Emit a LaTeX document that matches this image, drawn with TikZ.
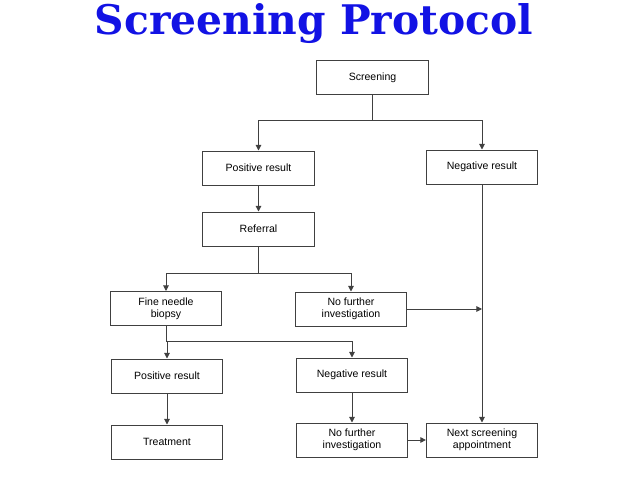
\documentclass[tikz,border=0pt]{standalone}
\usepackage{fontspec}
\setmainfont{Liberation Sans}
\newfontfamily\titlefont{DejaVu Serif}
\usetikzlibrary{arrows.meta, positioning, calc}

\definecolor{titleblue}{RGB}{18,18,228}

\begin{document}
\begin{tikzpicture}[
  x=0.025cm, y=-0.025cm,
  % ---- styles ----
  stage/.style = {
    rectangle, draw=black!75, line width=0.7pt,
    minimum width=2.78cm, minimum height=0.85cm,
    font=\fontsize{7.5}{8.6}\selectfont,
    align=center, inner sep=2pt
  },
  link/.style = {black!75, line width=0.7pt},
  flow/.style = {link, -{Triangle[length=4pt, width=4pt]}},
  heading/.style = {font=\titlefont\bfseries\fontsize{29}{34}\selectfont, text=titleblue}
]
\useasboundingbox (0,0) rectangle (640,480);

% ============ TITLE ============
\node[heading] (title) at (314,24) {Screening Protocol};

% ============ STAGES ============

% --- first screening ---
\node[stage] (screen) at (372.5,77.5) {Screening};
\node[stage] (pos1)   at (258.5,168)  {Positive result};
\node[stage] (neg1)   at (482,167)    {Negative result};
\node[stage] (refer)  at (258.5,229)  {Referral};

% --- after referral ---
\node[stage] (fna)    at (166,308.5)   {Fine needle\\biopsy};
\node[stage] (nofur1) at (351,309)     {No further\\investigation};

% --- biopsy outcome ---
\node[stage] (pos2)   at (167,376)     {Positive result};
\node[stage] (neg2)   at (352,375)     {Negative result};
\node[stage] (treat)  at (167,442)     {Treatment};
\node[stage] (nofur2) at (352,440)     {No further\\investigation};
\node[stage] (next)   at (482,440)     {Next screening\\appointment};

% ============ CONNECTORS ============

% screening splits into both results
\coordinate (split1) at (372.5,120);
\draw[link] (screen.south) -- (split1);
\draw[flow] (split1) -| (pos1.north);
\draw[flow] (split1) -| (neg1.north);

% positive -> referral
\draw[flow] (pos1.south) -- (refer.north);

% referral splits
\coordinate (split2) at (258.5,273);
\draw[link] (refer.south) -- (split2);
\draw[flow] (split2) -| (fna.north);
\draw[flow] (split2) -| (nofur1.north);

% negative -> next screening, with a branch coming in
\draw[flow] (neg1.south) -- (next.north);
\coordinate (merge) at (nofur1.east -| neg1.south);
\draw[flow] (nofur1.east) -- (merge);

% biopsy splits
\coordinate (split3) at (166,341);
\draw[link] (fna.south) -- (split3);
\draw[flow] (split3) -| (pos2.north);
\draw[flow] (split3) -| (neg2.north);

% outcomes
\draw[flow] (pos2.south) -- (treat.north);
\draw[flow] (neg2.south) -- (nofur2.north);
\draw[flow] (nofur2.east) -- (next.west);

\end{tikzpicture}
\end{document}
